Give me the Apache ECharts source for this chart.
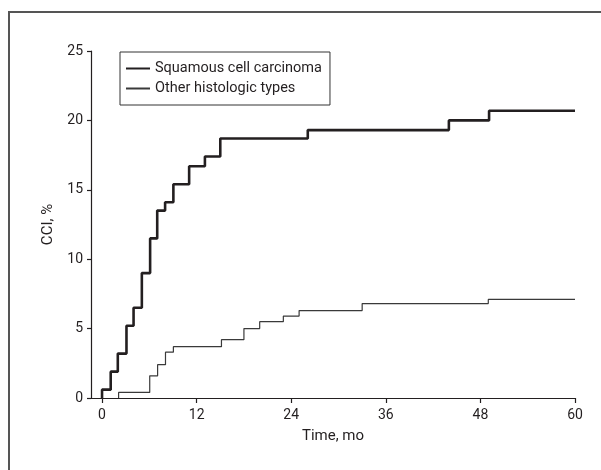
<!DOCTYPE html>
<html>
<head>
<meta charset="utf-8">
<script src="https://cdn.jsdelivr.net/npm/echarts@6/dist/echarts.min.js"></script>
<style>
html,body{margin:0;padding:0;background:#fff;}
#c{width:601px;height:470px;}
</style>
</head>
<body>
<div id="c"></div>
<script>
// Data (months, cumulative incidence %)
const seriesNames = ['Squamous cell carcinoma', 'Other histologic types'];
const sqTimes  = [0, 0,   1.1, 2.0, 3.1, 4.0, 5.05, 6.1,  7.0,  8.0,  9.05, 11.05, 13.05, 15.0, 26.1, 44.0, 49.1, 60];
const sqValues = [0, 0.6, 1.9, 3.2, 5.2, 6.5, 9.0,  11.5, 13.5, 14.1, 15.4, 16.7,  17.4,  18.7, 19.3, 20.0, 20.7, 20.7];
const otTimes  = [2.1, 2.1, 6.05, 7.05, 8.05, 9.05, 15.15, 18.0, 20.0, 23.0, 25.0, 33.0, 49.0, 60];
const otValues = [0,   0.4, 1.6,  2.4,  3.3,  3.7,  4.2,   5.0,  5.5,  5.9,  6.3,  6.8,  7.1,  7.1];
const xTicks = [0, 12, 24, 36, 48, 60];
const yTicks = [0, 5, 10, 15, 20, 25];
const xTitle = 'Time, mo';
const yTitle = 'CCI, %';

const zip = (a, b) => a.map((t, i) => [t, b[i]]);
const FONT = 'Roboto, "Liberation Sans", sans-serif';
const ink = '#231f20';

const chart = echarts.init(document.getElementById('c'), null, {renderer: 'canvas'});
chart.setOption({
  animation: false,
  backgroundColor: '#fff',
  graphic: [{
    type: 'rect',
    shape: {x: 9, y: 12, width: 640, height: 520},
    style: {fill: 'none', stroke: '#555', lineWidth: 2},
    silent: true
  }],
  grid: {left: 91, right: 26, top: 51, bottom: 72, containLabel: false},
  legend: {
    left: 120, top: 52,
    orient: 'vertical',
    data: seriesNames,
    borderColor: '#333', borderWidth: 1,
    padding: [9, 8, 9, 5],
    itemWidth: 24, itemHeight: 14, itemGap: 5,
    itemStyle: {opacity: 0},
    textStyle: {fontFamily: FONT, fontSize: 14.5, color: ink},
    selectedMode: false
  },
  xAxis: {
    type: 'value',
    min: -1.4, max: 60,
    name: xTitle,
    nameLocation: 'middle',
    nameGap: 31,
    nameMoveOverlap: false,
    nameTextStyle: {fontFamily: FONT, fontSize: 15, color: ink},
    axisLine: {show: true, onZero: false, lineStyle: {color: ink, width: 1.2}},
    axisTick: {show: true, length: 5, customValues: xTicks, lineStyle: {color: ink, width: 1.2}},
    axisLabel: {customValues: xTicks, margin: 10, fontFamily: FONT, fontSize: 14, color: ink},
    splitLine: {show: false}
  },
  yAxis: {
    type: 'value',
    min: 0, max: 25, interval: 5,
    name: yTitle,
    nameLocation: 'middle',
    nameGap: 35,
    nameRotate: 90,
    nameMoveOverlap: false,
    nameTextStyle: {fontFamily: FONT, fontSize: 15, color: ink},
    axisLine: {show: true, onZero: false, lineStyle: {color: ink, width: 1.2}},
    axisTick: {show: true, length: 4, customValues: yTicks, lineStyle: {color: ink, width: 1.2}},
    axisLabel: {customValues: yTicks, margin: 8, fontFamily: FONT, fontSize: 14, color: ink},
    splitLine: {show: false}
  },
  series: [
    {
      name: seriesNames[0],
      type: 'line',
      step: 'end',
      symbol: 'none',
      data: zip(sqTimes, sqValues),
      lineStyle: {color: ink, width: 2.6},
      itemStyle: {color: ink}
    },
    {
      name: seriesNames[1],
      type: 'line',
      step: 'end',
      symbol: 'none',
      data: zip(otTimes, otValues),
      lineStyle: {color: '#3a3a3a', width: 1.2},
      itemStyle: {color: '#3a3a3a'}
    }
  ]
});
</script>
</body>
</html>
